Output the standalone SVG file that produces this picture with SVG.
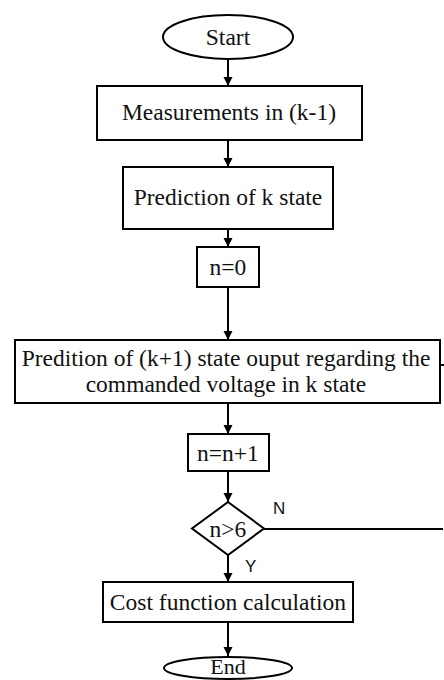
<svg xmlns="http://www.w3.org/2000/svg" width="444" height="680" viewBox="0 0 444 680">
<defs>
<marker id="ah" markerWidth="10" markerHeight="10" refX="9" refY="4.5" orient="auto" markerUnits="userSpaceOnUse">
<path d="M0,0 L9,4.5 L0,9 Z" fill="#000"/>
</marker>
<style>
.s{fill:#fff;stroke:#000;stroke-width:2}
.t{font-family:"Liberation Serif","Times New Roman",serif;font-size:23.5px;fill:#111;text-anchor:middle}
.l{font-family:"Liberation Sans",Arial,sans-serif;font-size:17px;fill:#111}
.c{fill:none;stroke:#000;stroke-width:2}
</style>
</defs>
<rect width="444" height="680" fill="#fff"/>
<g id="connectors">
<line class="c" x1="228" y1="59" x2="228" y2="86" marker-end="url(#ah)"/>
<line class="c" x1="228" y1="140" x2="228" y2="167" marker-end="url(#ah)"/>
<line class="c" x1="228" y1="229" x2="228" y2="247" marker-end="url(#ah)"/>
<line class="c" x1="228" y1="287" x2="228" y2="340" marker-end="url(#ah)"/>
<line class="c" x1="228" y1="403" x2="228" y2="434" marker-end="url(#ah)"/>
<line class="c" x1="228" y1="471" x2="228" y2="502" marker-end="url(#ah)"/>
<line class="c" x1="228" y1="555" x2="228" y2="582" marker-end="url(#ah)"/>
<line class="c" x1="228" y1="622" x2="228" y2="656" marker-end="url(#ah)"/>
<line class="c" x1="264" y1="529" x2="443" y2="529"/>
<line class="c" x1="440" y1="365" x2="444" y2="365"/>
<text class="l" x="273" y="514">N</text>
<text class="l" x="245" y="572">Y</text>
</g>
<g id="start">
<ellipse class="s" cx="228" cy="37" rx="65" ry="22"/>
<text class="t" x="228" y="45">Start</text>
</g>
<g id="measure">
<rect class="s" x="97" y="86" width="265" height="54"/>
<text class="t" x="229" y="120">Measurements in (k-1)</text>
</g>
<g id="predict">
<rect class="s" x="123" y="167" width="210" height="62"/>
<text class="t" x="228" y="205">Prediction of k state</text>
</g>
<g id="n0">
<rect class="s" x="197" y="247" width="62" height="40"/>
<text class="t" x="228" y="275">n=0</text>
</g>
<g id="predk1">
<rect class="s" x="15" y="340" width="425" height="63"/>
<text class="t" x="226" y="366">Predition of (k+1) state ouput regarding the</text>
<text class="t" x="226" y="392">commanded voltage in k state</text>
</g>
<g id="ninc">
<rect class="s" x="188" y="434" width="81" height="37"/>
<text class="t" x="228" y="461">n=n+1</text>
</g>
<g id="decision">
<polygon class="s" points="228,502 264,528.5 228,555 192,528.5"/>
<text class="t" x="228" y="537">n&gt;6</text>
</g>
<g id="cost">
<rect class="s" x="103" y="582" width="250" height="40"/>
<text class="t" x="228" y="610">Cost function calculation</text>
</g>
<g id="end">
<ellipse class="s" cx="228" cy="668" rx="64" ry="11"/>
<text class="t" x="228" y="674" style="font-size:22px">End</text>
</g>
</svg>
